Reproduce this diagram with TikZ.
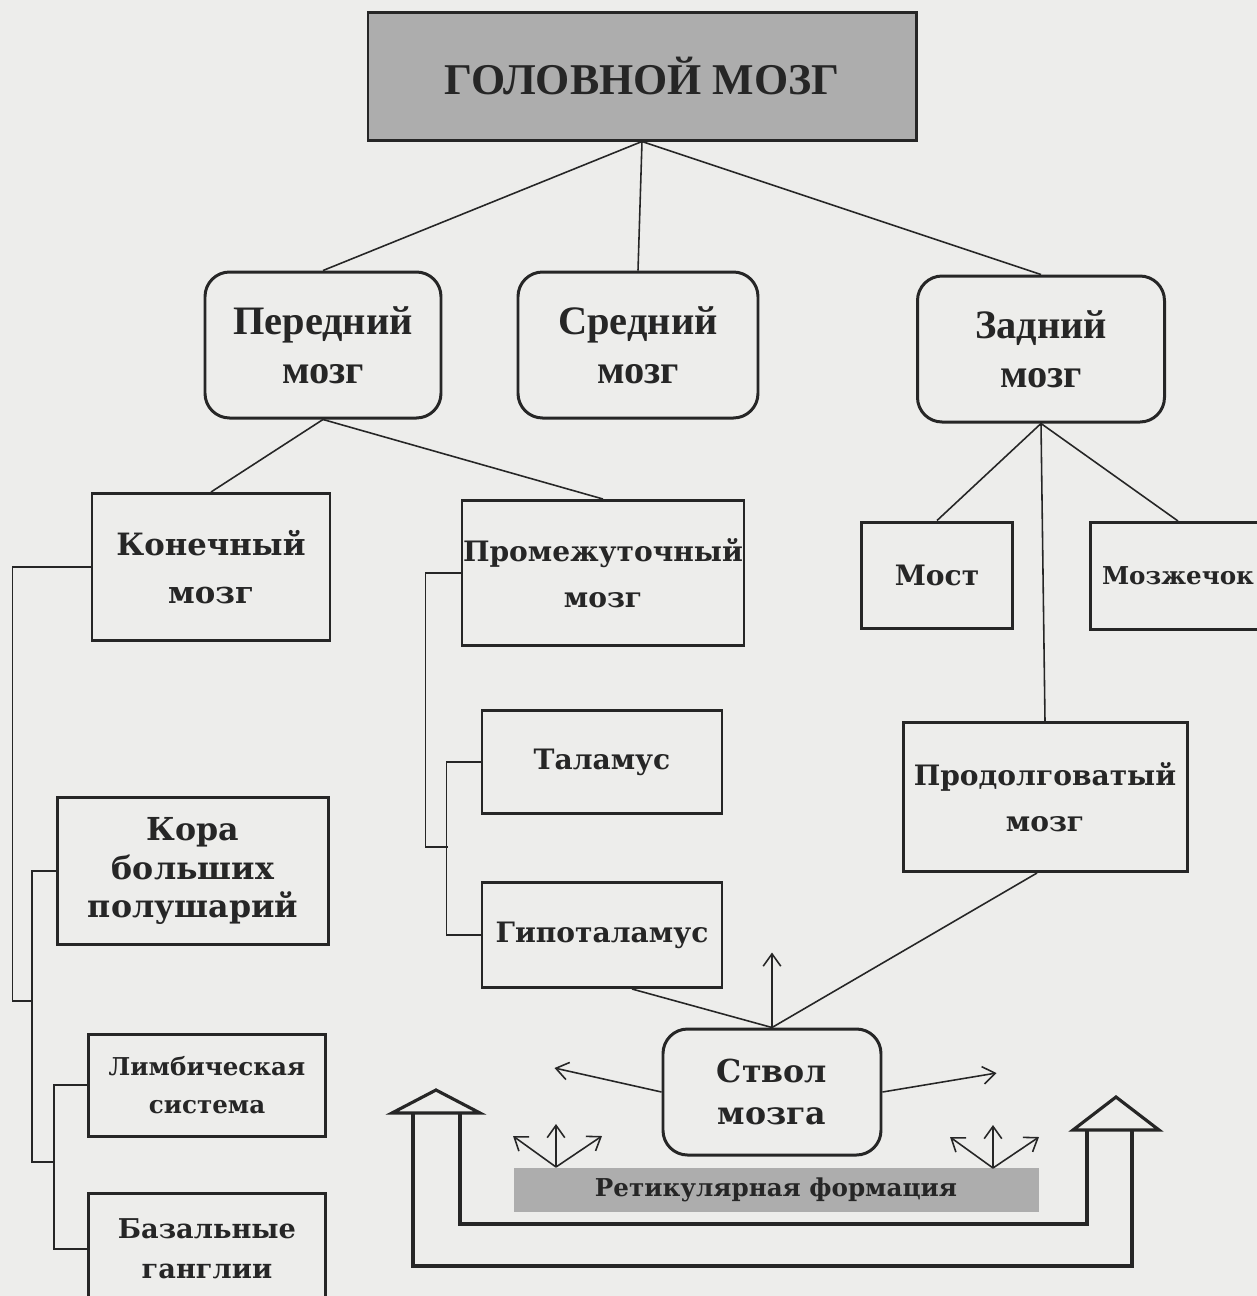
\documentclass[tikz,border=0pt]{standalone}
\usepackage{fontspec}
\setmainfont{DejaVu Serif}
\newfontfamily\condfont{Liberation Serif}
\usetikzlibrary{arrows.meta}
\definecolor{paper}{HTML}{EDEDEB}
\definecolor{ink}{HTML}{262626}
\definecolor{tone}{HTML}{ADADAD}
\tikzset{
  wh/.style 2 args={minimum width=#1*0.02cm, minimum height=#2*0.02cm},
  box/.style={draw=ink, line width=1.7pt, align=center, inner sep=0pt,
    text=ink, font=\bfseries\fontsize{16}{26}\selectfont},
  roundbox/.style={box, rounded corners=14pt,
    font=\condfont\bfseries\fontsize{23}{28}\selectfont},
  link/.style={draw=ink, line width=0.9pt},
  ray/.style={link, -{Straight Barb[length=7pt,width=10pt]}},
  hollow/.style={draw=ink, line width=1.8pt, line join=miter},
}
\begin{document}
\begin{tikzpicture}[x=0.02cm,y=-0.02cm]
\useasboundingbox (0,0) rectangle (1257,1296);
\clip (0,0) rectangle (1257,1296);
\fill [paper] (0,0) rectangle (1257,1296);
% top
\node [box, fill=tone, wh={548}{128}, font=\condfont\bfseries\fontsize{25}{30}\selectfont] (head) at (642,76) {ГОЛОВНОЙ МОЗГ};
\node [roundbox, wh={236}{146}] (pered) at (323,345) {Передний\\мозг};
\node [roundbox, wh={240}{146}] (sred) at (638,345) {Средний\\мозг};
\node [roundbox, wh={247}{146}] (zad) at (1041,349) {Задний\\мозг};
% forebrain
\node [box, wh={238}{147}, font=\bfseries\fontsize{17.5}{27}\selectfont] (konech) at (211,567) {Конечный\\мозг};
\node [box, wh={282}{145}] (promezh) at (603,573) {Промежуточный\\мозг};
\node [box, wh={271}{147}, font=\bfseries\fontsize{18}{22}\selectfont] (kora) at (193,871) {Кора\\больших\\полушарий};
\node [box, wh={237}{102}, font=\bfseries\fontsize{14}{22}\selectfont] (limb) at (207,1085) {Лимбическая\\система};
\node [box, wh={237}{112}, font=\bfseries\fontsize{15.5}{23}\selectfont] (bazal) at (207,1249) {Базальные\\ганглии};
\node [box, wh={240}{103}] (talam) at (602,762) {Таламус};
\node [box, wh={240}{105}] (gipot) at (602,935) {Гипоталамус};
% hindbrain
\node [box, wh={151}{106}] (most) at (937,575) {Мост};
\node [box, wh={176}{107}, font=\bfseries\fontsize{14}{20}\selectfont] (mozzh) at (1178,576) {Мозжечок};
\node [box, wh={284}{149}] (prodol) at (1045,797) {Продолговатый\\мозг};
% stem
\node [box, rounded corners=14pt, wh={218}{126}, font=\bfseries\fontsize{18}{24}\selectfont] (stvol) at (772,1092) {Ствол\\мозга};
\node [fill=tone, wh={525}{44}, inner sep=0pt, text=ink, font=\bfseries\fontsize{14}{16}\selectfont] (retic) at (776,1190) {Ретикулярная формация};

\draw [link] (head.south) -- (pered.north);
\draw [link] (head.south) -- (sred.north);
\draw [link] (head.south) -- (zad.north);
\draw [link] (pered.south) -- (konech.north);
\draw [link] (pered.south) -- (promezh.north);
\draw [link] (zad.south) -- (most.north);
\draw [link] (zad.south) -- (prodol.north);
\draw [link] (zad.south) -- (mozzh.north);

% brackets
\coordinate (j1) at (33,1001);
\coordinate (j2) at (55,1162);
\coordinate (j3) at (448,847);
\draw [link] (konech.west) -- ++(-78,0) |- (j1);
\draw [link] (kora.west) -- ++(-24,0) |- (j2);
\draw [link] (limb.west) -- ++(-33,0) |- (bazal.west);
\draw [link] (promezh.west) -- ++(-35,0) |- (j3);
\draw [link] (talam.west) -- ++(-34,0) |- (gipot.west);

% stem links
\draw [link] (stvol.north) -- ([xshift=0.6cm]gipot.south);
\draw [link] (stvol.north) -- ([xshift=-0.16cm]prodol.south);
\draw [ray] (stvol.north) -- ++(0,-75);
\draw [ray] (stvol.west) -- ++(-107,-24);
\draw [ray] (stvol.east) -- ++(114,-19);

\coordinate (fanL) at (556,1167);
\coordinate (fanR) at (993,1168);
\foreach \dx/\dy in {-43/-31, 0/-43, 46/-31} {
  \draw [ray] (fanL) -- ++(\dx,\dy);
  \draw [ray] (fanR) -- ++(\dx,\dy);
}

% double arrow
\draw [hollow] (392,1113) -- (436,1090) -- (480,1113) -- cycle;
\draw [hollow] (1073,1130) -- (1116,1097) -- (1159,1130) -- cycle;
\draw [hollow] (413,1113) |- (1132,1266) -- (1132,1130);
\draw [hollow] (460,1113) |- (1087,1224) -- (1087,1130);
\end{tikzpicture}
\end{document}
